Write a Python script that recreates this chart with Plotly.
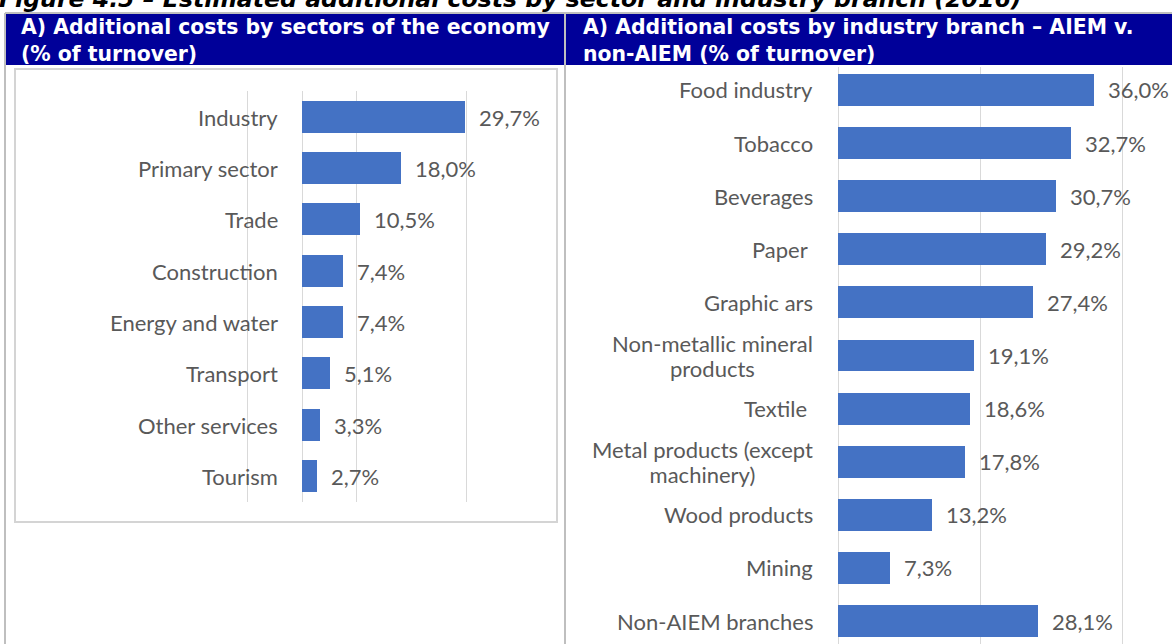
import plotly.graph_objects as go

W, H = 1172, 644

# Panel A: additional costs by sector of the economy (% of turnover)
sectors = ["Industry", "Primary sector", "Trade", "Construction",
           "Energy and water", "Transport", "Other services", "Tourism"]
sector_costs = [29.7, 18.0, 10.5, 7.4, 7.4, 5.1, 3.3, 2.7]

# Panel B: additional costs by industry branch, AIEM v. non-AIEM (% of turnover)
branches = ["Food industry", "Tobacco", "Beverages", "Paper ", "Graphic ars",
            "Non-metallic mineral<br>products", "Textile ",
            "Metal products (except<br>machinery)", "Wood products", "Mining",
            "Non-AIEM branches"]
branch_costs = [36.0, 32.7, 30.7, 29.2, 27.4, 19.1, 18.6, 17.8, 13.2, 7.3, 28.1]

fig_title = "Figure 4.5 – Estimated additional costs by sector and industry branch (2016)"
header_left = "A) Additional costs by sectors of the economy<br>(% of turnover)"
header_right = "A) Additional costs by industry branch – AIEM v.<br>non-AIEM (% of turnover)"

BAR = "#4472C4"
GRID = "#D9D9D9"
LABEL = "#595959"
NAVY = "#000099"
BORDER = "#BFBFBF"
TXT_FONT = "Lato"
TXT_SIZE = 22
WRAP_SIZE = 19.2  # base size of wrapped labels; sets a tighter line spacing


def px(x):
    return x / W


def py(y):
    return 1 - y / H


def pct(v):
    return f"{v:.1f}".replace(".", ",") + "%"


fig = go.Figure()
fig.add_trace(go.Bar(x=sector_costs, y=sectors, orientation="h", width=0.62,
                     marker=dict(color=BAR, line=dict(width=0)),
                     xaxis="x", yaxis="y", hoverinfo="skip"))
fig.add_trace(go.Bar(x=branch_costs, y=branches, orientation="h", width=0.60,
                     marker=dict(color=BAR, line=dict(width=0)),
                     xaxis="x2", yaxis="y2", hoverinfo="skip"))

annotations = []
# category labels and value labels
for cats, vals, xa, ya, lab_x in [(sectors, sector_costs, "x", "y", 280),
                                  (branches, branch_costs, "x2", "y2", 815)]:
    for c, v in zip(cats, vals):
        lines = c.split("<br>")
        if len(lines) == 1:
            text, size = c, TXT_SIZE
        else:
            text = "<br>".join(f"<span style='font-size:{TXT_SIZE}px'>{ln}</span>"
                               for ln in lines)
            size = WRAP_SIZE
        annotations.append(dict(x=px(lab_x), xref="paper", y=c, yref=ya, text=text,
                                xanchor="right", yanchor="middle", align="center",
                                showarrow=False,
                                font=dict(family=TXT_FONT, size=size, color=LABEL)))
        annotations.append(dict(x=v, xref=xa, y=c, yref=ya, text=pct(v),
                                xanchor="left", yanchor="middle", xshift=12,
                                showarrow=False,
                                font=dict(family=TXT_FONT, size=TXT_SIZE, color=LABEL)))

# headers
annotations.append(dict(x=px(19), y=py(13), xref="paper", yref="paper",
                        text=f"<b>{header_left}</b>", xanchor="left", yanchor="top",
                        align="left", showarrow=False,
                        font=dict(family="DejaVu Sans", size=20.4, color="white")))
annotations.append(dict(x=px(581), y=py(13), xref="paper", yref="paper",
                        text=f"<b>{header_right}</b>", xanchor="left", yanchor="top",
                        align="left", showarrow=False,
                        font=dict(family="DejaVu Sans", size=20.4, color="white")))
annotations.append(dict(x=px(-3), y=py(15), xref="paper", yref="paper",
                        text=f"<b><i>{fig_title}</i></b>", xanchor="left", yanchor="bottom",
                        align="left", showarrow=False,
                        font=dict(family="DejaVu Sans", size=23.6, color="black")))

shapes = [
    # table frame
    dict(type="line", xref="paper", yref="paper", x0=px(5), x1=1, y0=py(13), y1=py(13),
         line=dict(color=BORDER, width=2), layer="below"),
    dict(type="line", xref="paper", yref="paper", x0=px(5), x1=px(5), y0=py(13), y1=0,
         line=dict(color=BORDER, width=2), layer="below"),
    dict(type="line", xref="paper", yref="paper", x0=px(565), x1=px(565), y0=py(13), y1=0,
         line=dict(color=BORDER, width=2), layer="below"),
    # header cells
    dict(type="rect", xref="paper", yref="paper", x0=px(6), x1=px(564), y0=py(14), y1=py(65),
         fillcolor=NAVY, line=dict(width=0), layer="below"),
    dict(type="rect", xref="paper", yref="paper", x0=px(566), x1=1, y0=py(14), y1=py(65),
         fillcolor=NAVY, line=dict(width=0), layer="below"),
    # chart area border of panel A
    dict(type="rect", xref="paper", yref="paper", x0=px(15), x1=px(557), y0=py(522), y1=py(69),
         line=dict(color="#D4D4D4", width=2), layer="below"),
]

fig.update_layout(
    width=W, height=H,
    margin=dict(l=0, r=0, t=0, b=0),
    paper_bgcolor="white", plot_bgcolor="rgba(0,0,0,0)",
    showlegend=False, bargap=0,
    annotations=annotations, shapes=shapes,
    xaxis=dict(domain=[px(240), px(550)], range=[(240 - 302) / 5.49, (550 - 302) / 5.49],
               tickvals=[-10, 0, 10, 30], showticklabels=False, showgrid=True,
               gridcolor=GRID, gridwidth=1.3, zeroline=False, showline=False,
               anchor="y", fixedrange=True),
    yaxis=dict(domain=[py(502), py(91.4)], range=[7.5, -0.5], type="category",
               categoryorder="array", categoryarray=sectors, showticklabels=False,
               showgrid=False, zeroline=False, anchor="x", fixedrange=True),
    xaxis2=dict(domain=[px(830), 1], range=[-8 / 7.11, (1172 - 838) / 7.11],
                tickvals=[0, 20, 40], showticklabels=False, showgrid=True,
                gridcolor=GRID, gridwidth=1.3, zeroline=False, showline=False,
                anchor="y2", fixedrange=True),
    yaxis2=dict(domain=[0, py(67)], range=[10.433, -0.433], type="category",
                categoryorder="array", categoryarray=branches, showticklabels=False,
                showgrid=False, zeroline=False, anchor="x2", fixedrange=True),
)

fig.write_html("out.html")
